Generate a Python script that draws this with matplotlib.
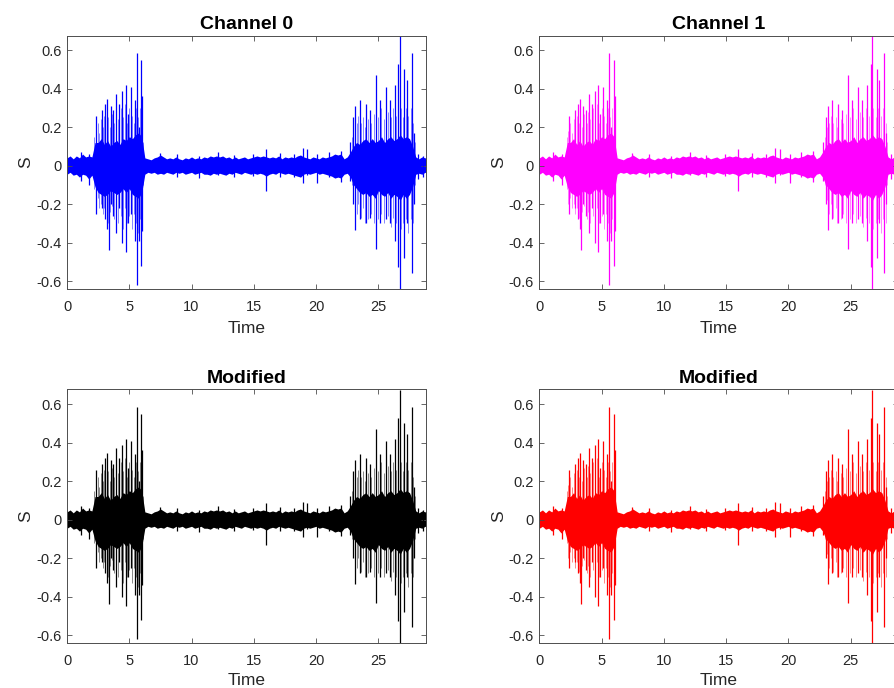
import numpy as np
import matplotlib
matplotlib.use("Agg")
import matplotlib.pyplot as plt

plt.rcParams['font.family'] = ['Liberation Sans', 'DejaVu Sans']

# ---- data ----
titles = ["Channel 0", "Channel 1", "Modified", "Modified"]
colors = ["#0000ff", "#ff00ff", "#000000", "#ff0000"]
xticks = [0, 5, 10, 15, 20, 25]
yticks = [-0.6, -0.4, -0.2, 0, 0.2, 0.4, 0.6]
ytick_labels = ["-0.6", "-0.4", "-0.2", "0", "0.2", "0.4", "0.6"]
t_max = 28.8
step = 0.25

# dense core envelope, one value every 0.25 s
core_hi = [0.04, 0.05, 0.035, 0.05, 0.04, 0.06, 0.045, 0.05, 0.045,
           0.12, 0.12, 0.14, 0.11, 0.13, 0.10, 0.12, 0.13, 0.11, 0.14, 0.13, 0.15, 0.14, 0.16, 0.17, 0.15,
           0.04,
           0.035, 0.03, 0.04, 0.045, 0.055, 0.045, 0.035, 0.04, 0.035, 0.045, 0.035, 0.03, 0.04, 0.035, 0.045,
           0.035, 0.04, 0.035, 0.045, 0.04, 0.05, 0.045, 0.05, 0.045, 0.05, 0.04, 0.045, 0.035, 0.045, 0.035,
           0.04, 0.045, 0.035, 0.04, 0.045, 0.05, 0.045, 0.05, 0.045, 0.04, 0.045, 0.04, 0.05, 0.035, 0.045,
           0.04, 0.045, 0.04, 0.05, 0.055, 0.045, 0.04, 0.035, 0.045, 0.04, 0.035, 0.045, 0.04, 0.045, 0.05,
           0.06, 0.055, 0.06, 0.035, 0.045,
           0.07, 0.10, 0.12, 0.11, 0.13, 0.14, 0.12, 0.14, 0.12, 0.13, 0.15, 0.12, 0.14, 0.15, 0.13, 0.14,
           0.16, 0.14, 0.15, 0.14, 0.10,
           0.045, 0.035, 0.045, 0.04, 0.045]
core_lo = [-0.045, -0.035, -0.05, -0.045, -0.06, -0.045, -0.05, -0.07, -0.05,
           -0.11, -0.14, -0.15, -0.16, -0.15, -0.13, -0.14, -0.15, -0.14, -0.12, -0.14, -0.12, -0.15, -0.16, -0.17, -0.14,
           -0.045,
           -0.035, -0.04, -0.035, -0.045, -0.04, -0.045, -0.035, -0.04, -0.045, -0.035, -0.04, -0.035, -0.045, -0.04, -0.035,
           -0.045, -0.04, -0.035, -0.045, -0.045, -0.05, -0.04, -0.045, -0.04, -0.045, -0.05, -0.04, -0.045, -0.035, -0.04,
           -0.045, -0.035, -0.04, -0.045, -0.04, -0.045, -0.04, -0.045, -0.055, -0.045, -0.04, -0.045, -0.035, -0.04, -0.045,
           -0.04, -0.045, -0.05, -0.055, -0.06, -0.045, -0.04, -0.045, -0.04, -0.035, -0.045, -0.04, -0.045, -0.05, -0.055,
           -0.065, -0.06, -0.065, -0.045, -0.04,
           -0.06, -0.10, -0.12, -0.14, -0.15, -0.14, -0.16, -0.15, -0.17, -0.13, -0.15, -0.16, -0.14, -0.17, -0.15, -0.16,
           -0.18, -0.15, -0.17, -0.15, -0.11,
           -0.045, -0.04, -0.045, -0.035, -0.04]

# medium spikes inside the two bursts: time, top, bottom
mid_t = [2.2, 2.3, 2.45, 2.6, 2.75, 2.9, 3.0, 3.2, 3.3, 3.45, 3.6, 3.8, 3.9, 4.1, 4.3, 4.5, 4.65, 4.8,
         5.0, 5.2, 5.35, 5.55, 5.7, 5.85, 6.1,
         22.9, 23.1, 23.25, 23.4, 23.6, 23.8, 23.9, 24.2, 24.4, 24.65, 24.95, 25.2, 25.45, 25.75, 26.0,
         26.2, 26.45, 26.8, 27.0, 27.2, 27.4, 27.6, 27.8, 27.95]
mid_hi = [0.15, 0.18, 0.22, 0.17, 0.24, 0.20, 0.26, 0.22, 0.25, 0.20, 0.27, 0.22, 0.28, 0.24, 0.30, 0.25, 0.32, 0.22,
          0.30, 0.26, 0.22, 0.30, 0.25, 0.30, 0.12,
          0.15, 0.20, 0.22, 0.26, 0.22, 0.25, 0.20, 0.24, 0.22, 0.27, 0.25, 0.30, 0.24, 0.28, 0.25,
          0.30, 0.26, 0.30, 0.25, 0.30, 0.26, 0.30, 0.22, 0.12]
mid_lo = [-0.12, -0.20, -0.17, -0.22, -0.20, -0.25, -0.22, -0.27, -0.30, -0.24, -0.21, -0.28, -0.24, -0.30, -0.26, -0.33, -0.22, -0.30,
          -0.26, -0.33, -0.25, -0.30, -0.35, -0.28, -0.10,
          -0.10, -0.18, -0.25, -0.20, -0.27, -0.22, -0.30, -0.28, -0.25, -0.30, -0.28, -0.25, -0.30, -0.26, -0.32,
          -0.27, -0.30, -0.33, -0.30, -0.28, -0.35, -0.28, -0.30, -0.10]

# tall individual spikes: time, top, bottom
spike_t = [2.35, 2.83, 3.07, 3.25, 3.37, 3.53, 3.72, 3.96, 4.2, 4.44, 4.73, 4.89, 5.11, 5.45, 5.61, 5.78,
           5.96, 6.04,
           1.1, 1.8, 7.46, 8.8, 10.6, 12.1, 13.4, 14.9, 15.94, 17.1, 18.2, 18.95, 19.3, 20.1, 21.0, 22.0,
           22.75, 23.0, 23.16, 23.5, 23.98, 24.3, 24.8, 25.1, 25.6, 25.9, 26.34, 26.6, 26.74, 27.09, 27.3,
           27.67, 27.86, 28.2, 28.6]
spike_hi = [0.26, 0.29, 0.32, 0.345, 0.10, 0.31, 0.29, 0.37, 0.32, 0.39, 0.42, 0.27, 0.41, 0.34, 0.585, 0.20,
            0.55, 0.36,
            0.07, 0.06, 0.065, 0.06, 0.05, 0.07, 0.055, 0.06, 0.087, 0.065, 0.06, 0.09, 0.085, 0.06, 0.07, 0.075,
            0.12, 0.255, 0.31, 0.34, 0.32, 0.29, 0.47, 0.34, 0.41, 0.34, 0.42, 0.53, 0.676, 0.50, 0.445,
            0.585, 0.17, 0.06, 0.05]
spike_lo = [-0.25, -0.22, -0.28, -0.33, -0.44, -0.20, -0.26, -0.35, -0.22, -0.40, -0.45, -0.30, -0.25, -0.39, -0.62, -0.39,
            -0.52, -0.34,
            -0.08, -0.10, -0.04, -0.06, -0.065, -0.05, -0.06, -0.055, -0.13, -0.06, -0.06, -0.09, -0.05, -0.09, -0.06, -0.085,
            -0.08, -0.20, -0.335, -0.28, -0.30, -0.27, -0.435, -0.30, -0.28, -0.30, -0.39, -0.525, -0.643, -0.48, -0.30,
            -0.557, -0.20, -0.07, -0.06]

y_lim = (-0.643, 0.676)

# ---- figure ----
W, H = 894, 688
fig = plt.figure(figsize=(W / 100, H / 100), dpi=100)

axw = 358.7 / W
axh = 253.8 / H
positions = [
    (67 / W, 1 - 289.3 / H),
    (539.3 / W, 1 - 289.3 / H),
    (67 / W, 1 - 643.3 / H),
    (539.3 / W, 1 - 643.3 / H),
]

t_core = np.arange(len(core_hi)) * step
edge = "#4d4d4d"

for k in range(4):
    ax = fig.add_axes([positions[k][0], positions[k][1], axw, axh])
    c = colors[k]
    ax.vlines(mid_t, mid_lo, mid_hi, color=c, linewidth=0.6, alpha=0.55)
    ax.fill_between(t_core, core_lo, core_hi, color=c, linewidth=0)
    ax.vlines(spike_t, spike_lo, spike_hi, color=c, linewidth=0.9)
    ax.set_xlim(0, t_max)
    ax.set_ylim(*y_lim)
    ax.set_xticks(xticks)
    ax.set_xticklabels([str(v) for v in xticks])
    ax.set_yticks(yticks)
    ax.set_yticklabels(ytick_labels)
    ax.tick_params(direction='in', length=3.5, width=0.6, colors=edge,
                   labelcolor='#262626', labelsize=10.5, top=True, right=True)
    ax.tick_params(axis='x', pad=8)
    ax.tick_params(axis='y', pad=4)
    for s in ax.spines.values():
        s.set_color(edge)
        s.set_linewidth(0.7)
    ax.set_title(titles[k], fontsize=14, fontweight='bold', color='black', pad=5)
    ax.set_xlabel("Time", fontsize=12.5, color='#262626', labelpad=5 if k < 2 else 3)
    ax.set_ylabel("S", fontsize=12.5, color='#262626', labelpad=2)

fig.savefig("out.png", dpi=100)
